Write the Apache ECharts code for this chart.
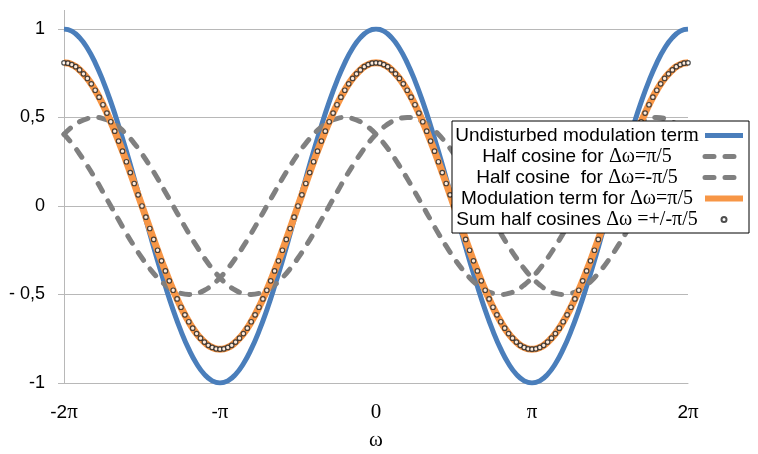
<!DOCTYPE html>
<html><head><meta charset="utf-8">
<script src="https://cdn.jsdelivr.net/npm/echarts@6/dist/echarts.min.js"></script>
<style>html,body{margin:0;padding:0;background:#fff}#c{width:758px;height:454px}</style>
</head><body><div id="c"></div>
<script>
// x positions in units of π
const xStart = -2;
const lineStep = 0.05;   // π/20
const dotStep = 0.025;   // π/40
const xTickValues = [-2, -1, 0, 1, 2];
const xTickLabels = ['-2π', '-π', '0', 'π', '2π'];
const yTickValues = [-1, -0.5, 0, 0.5, 1];
const yTickLabels = ['-1', '- 0,5', '0', '0,5', '1'];
const seriesNames = ['Undisturbed modulation term', 'Half cosine for Δω=π/5', 'Half cosine  for Δω=-π/5', 'Modulation term for Δω=π/5', 'Sum half cosines Δω =+/-π/5'];

const undisturbed = [1,0.988,0.951,0.891,0.809,0.707,0.588,0.454,0.309,0.156,0,-0.156,-0.309,-0.454,-0.588,-0.707,-0.809,-0.891,-0.951,-0.988,
-1,-0.988,-0.951,-0.891,-0.809,-0.707,-0.588,-0.454,-0.309,-0.156,0,0.156,0.309,0.454,0.588,0.707,0.809,0.891,0.951,0.988,
1,0.988,0.951,0.891,0.809,0.707,0.588,0.454,0.309,0.156,0,-0.156,-0.309,-0.454,-0.588,-0.707,-0.809,-0.891,-0.951,-0.988,
-1,-0.988,-0.951,-0.891,-0.809,-0.707,-0.588,-0.454,-0.309,-0.156,0,0.156,0.309,0.454,0.588,0.707,0.809,0.891,0.951,0.988,
1];

const halfPlus = [0.405,0.446,0.476,0.494,0.5,0.494,0.476,0.446,0.405,0.354,0.294,0.227,0.155,0.078,0,-0.078,-0.155,-0.227,-0.294,-0.354,
-0.405,-0.446,-0.476,-0.494,-0.5,-0.494,-0.476,-0.446,-0.405,-0.354,-0.294,-0.227,-0.155,-0.078,0,0.078,0.155,0.227,0.294,0.354,
0.405,0.446,0.476,0.494,0.5,0.494,0.476,0.446,0.405,0.354,0.294,0.227,0.155,0.078,0,-0.078,-0.155,-0.227,-0.294,-0.354,
-0.405,-0.446,-0.476,-0.494,-0.5,-0.494,-0.476,-0.446,-0.405,-0.354,-0.294,-0.227,-0.155,-0.078,0,0.078,0.155,0.227,0.294,0.354,
0.405];

const halfMinus = [0.405,0.354,0.294,0.227,0.155,0.078,0,-0.078,-0.155,-0.227,-0.294,-0.354,-0.405,-0.446,-0.476,-0.494,-0.5,-0.494,-0.476,-0.446,
-0.405,-0.354,-0.294,-0.227,-0.155,-0.078,0,0.078,0.155,0.227,0.294,0.354,0.405,0.446,0.476,0.494,0.5,0.494,0.476,0.446,
0.405,0.354,0.294,0.227,0.155,0.078,0,-0.078,-0.155,-0.227,-0.294,-0.354,-0.405,-0.446,-0.476,-0.494,-0.5,-0.494,-0.476,-0.446,
-0.405,-0.354,-0.294,-0.227,-0.155,-0.078,0,0.078,0.155,0.227,0.294,0.354,0.405,0.446,0.476,0.494,0.5,0.494,0.476,0.446,
0.405];

const modulation = [0.809,0.807,0.799,0.787,0.769,0.747,0.721,0.690,0.654,0.615,0.572,0.525,0.476,0.423,0.367,0.310,0.250,0.189,0.127,0.063,
0,-0.063,-0.127,-0.189,-0.250,-0.310,-0.367,-0.423,-0.476,-0.525,-0.572,-0.615,-0.654,-0.690,-0.721,-0.747,-0.769,-0.787,-0.799,-0.807,
-0.809,-0.807,-0.799,-0.787,-0.769,-0.747,-0.721,-0.690,-0.654,-0.615,-0.572,-0.525,-0.476,-0.423,-0.367,-0.310,-0.250,-0.189,-0.127,-0.063,
0,0.063,0.127,0.189,0.250,0.310,0.367,0.423,0.476,0.525,0.572,0.615,0.654,0.690,0.721,0.747,0.769,0.787,0.799,0.807,
0.809,0.807,0.799,0.787,0.769,0.747,0.721,0.690,0.654,0.615,0.572,0.525,0.476,0.423,0.367,0.310,0.250,0.189,0.127,0.063,
0,-0.063,-0.127,-0.189,-0.250,-0.310,-0.367,-0.423,-0.476,-0.525,-0.572,-0.615,-0.654,-0.690,-0.721,-0.747,-0.769,-0.787,-0.799,-0.807,
-0.809,-0.807,-0.799,-0.787,-0.769,-0.747,-0.721,-0.690,-0.654,-0.615,-0.572,-0.525,-0.476,-0.423,-0.367,-0.310,-0.250,-0.189,-0.127,-0.063,
0,0.063,0.127,0.189,0.250,0.310,0.367,0.423,0.476,0.525,0.572,0.615,0.654,0.690,0.721,0.747,0.769,0.787,0.799,0.807,
0.809];
const sumHalfCosines = modulation.slice();

function pairs(vals, step) { return vals.map((v, i) => [xStart + i * step, v]); }

const SANS = 'Liberation Sans';
const SERIF = 'Liberation Serif';
const BLUE = '#4a7ebb', GRAY = '#808080', ORANGE = '#f79646';
const DASH = [9, 11];

function xLabel(v) {
  const idx = xTickValues.findIndex(t => Math.abs(t - v) < 1e-9);
  if (idx < 0) return '';
  const s = xTickLabels[idx];
  return s.split('').map(ch => (ch === '-' || ch === '2') ? '{n|' + ch + '}' : '{p|' + ch + '}').join('');
}
function yLabel(v) {
  const idx = yTickValues.findIndex(t => Math.abs(t - v) < 1e-9);
  return idx < 0 ? '' : yTickLabels[idx];
}
function legendLabel(name) {
  const k = name.indexOf('Δ');
  return '{s|' + name.slice(0, k) + '}{g|' + name.slice(k) + '}';
}

const chart = echarts.init(document.getElementById('c'), null, {renderer: 'canvas'});
const gridColor = '#b8b8b8';
chart.setOption({
  animation: false,
  backgroundColor: '#fff',
  grid: {left: 64, right: 70, top: 29, bottom: 71, containLabel: false, outerBoundsMode: 'none'},
  xAxis: {
    type: 'value', min: -2, max: 2, interval: 1,
    name: 'ω', nameLocation: 'middle', nameGap: 47,
    nameTextStyle: {fontFamily: SERIF, fontSize: 21, color: '#000'},
    axisLine: {show: true, onZero: false, lineStyle: {color: gridColor, width: 1}},
    axisTick: {show: false},
    splitLine: {show: false},
    axisLabel: {
      margin: 19, formatter: xLabel,
      rich: {
        n: {fontFamily: SANS, fontSize: 19, color: '#000'},
        p: {fontFamily: SERIF, fontSize: 21, color: '#000'}
      }
    }
  },
  yAxis: {
    type: 'value', min: -1, max: 1, interval: 0.5,
    axisLine: {show: true, onZero: false, lineStyle: {color: gridColor, width: 1}},
    axisTick: {show: true, length: 6, lineStyle: {color: gridColor}},
    splitLine: {show: true, lineStyle: {color: gridColor, width: 1}},
    axisLabel: {margin: 19, formatter: yLabel, fontFamily: SANS, fontSize: 18, color: '#000'}
  },
  legend: {
    orient: 'vertical', left: 452, top: 121, align: 'right', z: 20,
    backgroundColor: '#fff', borderColor: '#000', borderWidth: 1,
    padding: [4, 3, 3, 2], itemGap: 0, itemWidth: 38, itemHeight: 5,
    data: [
      {name: seriesNames[0], itemStyle: {opacity: 0}, lineStyle: {color: BLUE, width: 5}},
      {name: seriesNames[1], itemStyle: {opacity: 0}, lineStyle: {color: GRAY, width: 5, type: DASH, cap: 'round'}},
      {name: seriesNames[2], itemStyle: {opacity: 0}, lineStyle: {color: GRAY, width: 5, type: DASH, cap: 'round'}},
      {name: seriesNames[3], itemStyle: {opacity: 0}, lineStyle: {color: ORANGE, width: 6}},
      {name: seriesNames[4]}
    ],
    formatter: legendLabel,
    textStyle: {
      width: 246, lineHeight: 21,
      rich: {
        s: {fontFamily: SANS, fontSize: 19, color: '#000', align: 'center', lineHeight: 21},
        g: {fontFamily: SERIF, fontSize: 20, color: '#000', align: 'center', lineHeight: 21}
      }
    }
  },
  graphic: [{type: 'line', shape: {x1: 64.5, y1: 10, x2: 64.5, y2: 29}, style: {stroke: gridColor, lineWidth: 1}, silent: true}],
  series: [
    {name: seriesNames[0], type: 'line', data: pairs(undisturbed, lineStep), symbol: 'none', smooth: true, z: 2,
     lineStyle: {color: BLUE, width: 5}, itemStyle: {color: BLUE}},
    {name: seriesNames[1], type: 'line', data: pairs(halfPlus, lineStep), symbol: 'none', smooth: true, z: 3,
     lineStyle: {color: GRAY, width: 5, type: DASH, cap: 'round'}, itemStyle: {color: GRAY}},
    {name: seriesNames[2], type: 'line', data: pairs(halfMinus, lineStep), symbol: 'none', smooth: true, z: 3,
     lineStyle: {color: GRAY, width: 5, type: DASH, cap: 'round'}, itemStyle: {color: GRAY}},
    {name: seriesNames[3], type: 'line', data: pairs(modulation, dotStep), symbol: 'none', smooth: true, z: 4,
     lineStyle: {color: ORANGE, width: 7}, itemStyle: {color: ORANGE}},
    {name: seriesNames[4], type: 'scatter', data: pairs(sumHalfCosines, dotStep), symbol: 'circle', symbolSize: 4.5, z: 6,
     itemStyle: {color: '#fff', borderColor: '#222', borderWidth: 1.2}}
  ]
});
</script></body></html>
